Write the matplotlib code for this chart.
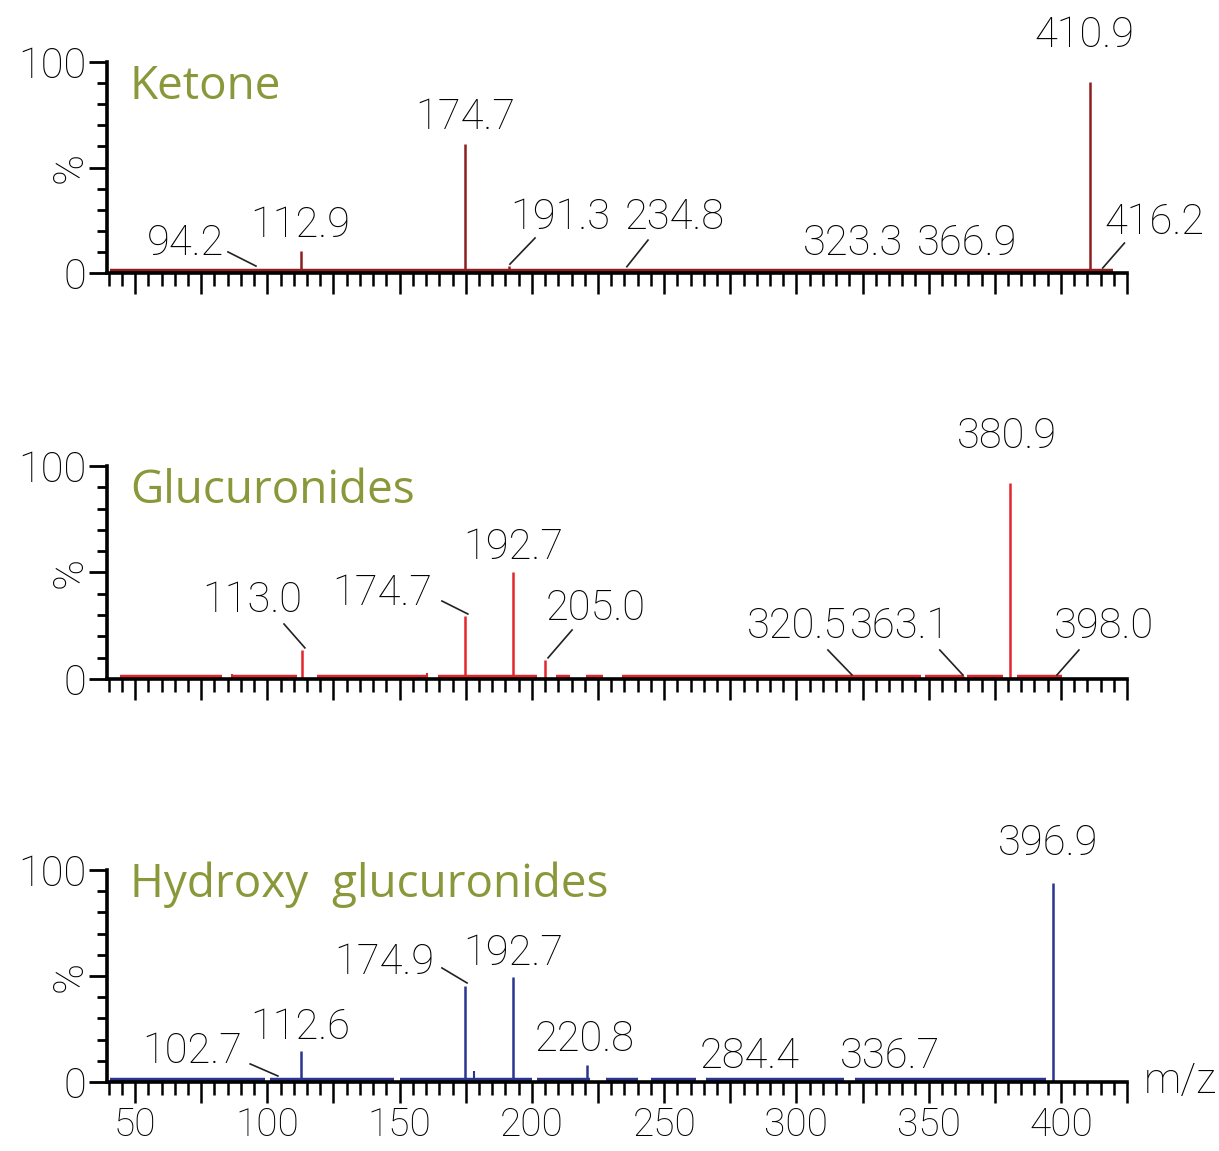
import matplotlib
matplotlib.use('Agg')
import matplotlib.pyplot as plt
from matplotlib.ticker import MultipleLocator, FuncFormatter

# panel names and colours
panel_names = ['Ketone', 'Glucuronides', 'Hydroxy  glucuronides']
panel_colors = ['#8e1f1f', '#e3262e', '#2b3590']

# labelled peaks (m/z, relative intensity %)
ketone_mz = [94.2, 112.9, 174.7, 191.3, 234.8, 323.3, 366.9, 410.9, 416.2]
ketone_int = [2.0, 10.5, 61.0, 3.5, 1.5, 0.8, 0.8, 90.5, 1.2]
gluc_mz = [113.0, 174.7, 192.7, 205.0, 320.5, 363.1, 380.9, 398.0]
gluc_int = [13.5, 29.5, 50.0, 9.0, 1.2, 1.2, 92.0, 1.2]
hydroxy_mz = [102.7, 112.6, 174.9, 192.7, 220.8, 284.4, 336.7, 396.9]
hydroxy_int = [2.0, 14.5, 45.5, 49.5, 8.0, 0.8, 0.8, 94.0]

# small unlabelled peaks
ketone_noise_mz = [67, 78, 86, 104, 124, 141, 150, 158, 166, 186, 208, 226,
                   248, 268, 288, 307, 326, 347, 365, 382, 399]
ketone_noise_int = [1.8, 1.5, 2.0, 1.8, 1.5, 1.5, 2.0, 2.0, 2.0, 2.0, 1.5, 1.5,
                    2.0, 1.5, 2.0, 1.5, 2.0, 2.0, 1.5, 2.0, 1.5]
gluc_noise_mz = [86.5, 160.5, 190.0]
gluc_noise_int = [2.5, 3.0, 1.5]
hydroxy_noise_mz = [86.5, 132.5, 156.0, 178.0]
hydroxy_noise_int = [2.0, 1.5, 1.2, 5.0]

# baseline clutter ranges (start m/z, end m/z)
ketone_base_start = [40.5]
ketone_base_end = [419.5]
gluc_base_start = [44.2, 86.4, 118.7, 164.7, 209.3, 220.5, 234.2, 348.5, 364.5, 383.2]
gluc_base_end = [82.7, 111.3, 160.9, 201.9, 214.3, 226.7, 347.2, 363.3, 378.2, 400.5]
hydroxy_base_start = [40.5, 101.0, 150.0, 202.0, 228.0, 245.0, 266.0, 322.0]
hydroxy_base_end = [99.0, 148.0, 200.0, 222.0, 240.0, 262.0, 318.0, 394.3]

# label layout: (text x, text y, leader start xy or None, leader end xy)
ketone_layout = [
    (69, 14.2, (85.1, 10.0), (95.7, 3.3)),
    (112.4, 22.7, None, None),
    (174.7, 73.5, None, None),
    (210.6, 26.5, (201.2, 16.6), (191.7, 4.2)),
    (254.0, 26.5, (243.9, 15.6), (235.9, 3.0)),
    (321.5, 14.2, None, None),
    (364.5, 14.2, None, None),
    (409.0, 112.8, None, None),
    (435.5, 24.0, (424.0, 14.2), (415.8, 2.4)),
]
gluc_layout = [
    (94.2, 36.6, (106.3, 25.8), (114.2, 14.6)),
    (143.3, 39.9, (166.0, 36.6), (175.8, 30.5)),
    (192.9, 61.5, None, None),
    (224.2, 32.9, (215.2, 23.0), (206.1, 9.9)),
    (300.2, 24.4, (311.9, 13.6), (321.0, 1.9)),
    (339.1, 24.4, (354.2, 13.6), (362.9, 1.9)),
    (379.6, 113.6, None, None),
    (416.2, 24.4, (406.8, 13.6), (398.5, 1.9)),
]
hydroxy_layout = [
    (71.5, 14.2, (93.5, 8.5), (104.0, 2.8)),
    (112.4, 25.9, None, None),
    (144.1, 56.6, (166.0, 53.8), (175.5, 46.7)),
    (192.9, 60.4, None, None),
    (220.0, 19.8, None, None),
    (282.4, 11.8, None, None),
    (335.3, 11.8, None, None),
    (395.0, 112.7, None, None),
]

panels = [
    (ketone_mz, ketone_int, ketone_noise_mz, ketone_noise_int,
     ketone_base_start, ketone_base_end, ketone_layout),
    (gluc_mz, gluc_int, gluc_noise_mz, gluc_noise_int,
     gluc_base_start, gluc_base_end, gluc_layout),
    (hydroxy_mz, hydroxy_int, hydroxy_noise_mz, hydroxy_noise_int,
     hydroxy_base_start, hydroxy_base_end, hydroxy_layout),
]

num_font = ['Roboto', 'DejaVu Sans']
title_font = ['Open Sans', 'DejaVu Sans']
num_size = 30

fig = plt.figure(figsize=(12.19, 11.51), dpi=100)
axes_rects = [
    [0.0878, 0.7628, 0.8368, 0.1833],
    [0.0878, 0.4101, 0.8368, 0.1851],
    [0.0878, 0.0600, 0.8368, 0.1841],
]

for i, (mz, inten, nmz, nint, bstart, bend, layout) in enumerate(panels):
    ax = fig.add_axes(axes_rects[i])
    color = panel_colors[i]

    # baseline clutter, small peaks, labelled peaks
    ax.hlines([1.0] * len(bstart), bstart, bend, color=color, lw=3.2)
    ax.vlines(nmz, 0, nint, color=color, lw=1.5)
    ax.vlines(mz, 0, inten, color=color, lw=1.8)

    for m, (tx, ty, p0, p1) in zip(mz, layout):
        ax.text(tx, ty, f'{m:.1f}', ha='center', va='center',
                family=num_font, weight='light', fontsize=num_size,
                color='#000000', clip_on=False)
        if p0 is not None:
            ax.plot([p0[0], p1[0]], [p0[1], p1[1]], color='#222222', lw=1.2,
                    clip_on=False)

    ax.text(48, 88 if i < 2 else 93, panel_names[i], ha='left', va='center',
            family=title_font, fontsize=33, color='#8a983a')

    ax.set_xlim(39.4, 425)
    ax.set_ylim(0, 100)
    for side in ['top', 'right']:
        ax.spines[side].set_visible(False)
    for side in ['left', 'bottom']:
        ax.spines[side].set_linewidth(2.6)

    ax.yaxis.set_major_locator(MultipleLocator(50))
    ax.yaxis.set_minor_locator(MultipleLocator(10))
    ax.yaxis.set_major_formatter(FuncFormatter(
        lambda v, p: '' if v == 50 else f'{v:.0f}'))
    ax.xaxis.set_major_locator(MultipleLocator(25))
    ax.xaxis.set_minor_locator(MultipleLocator(5))
    if i == 2:
        ax.xaxis.set_major_formatter(FuncFormatter(
            lambda v, p: f'{v:.0f}' if v % 50 == 0 else ''))
    else:
        ax.xaxis.set_major_formatter(FuncFormatter(lambda v, p: ''))

    ax.tick_params(axis='y', which='major', length=13, width=2, pad=2)
    ax.tick_params(axis='y', which='minor', length=7, width=2)
    ax.tick_params(axis='x', which='major', length=15, width=1.8, pad=3)
    ax.tick_params(axis='x', which='minor', length=9, width=1.8)
    for lab in ax.get_yticklabels():
        lab.set_family(num_font)
        lab.set_weight('light')
        lab.set_fontsize(num_size)
        lab.set_color('#000000')
    for lab in ax.get_xticklabels():
        lab.set_family(num_font)
        lab.set_weight('light')
        lab.set_fontsize(28)
        lab.set_color('#000000')

    ax.text(-0.036, 0.5, '%', transform=ax.transAxes, rotation=90,
            ha='center', va='center', family=num_font, weight='light',
            fontsize=num_size, color='#000000')

    if i == 2:
        ax.text(445, 0, 'm/z', ha='center', va='center', family=num_font,
                weight='light', fontsize=num_size, color='#000000',
                clip_on=False)

fig.savefig('out.png', dpi=100)
